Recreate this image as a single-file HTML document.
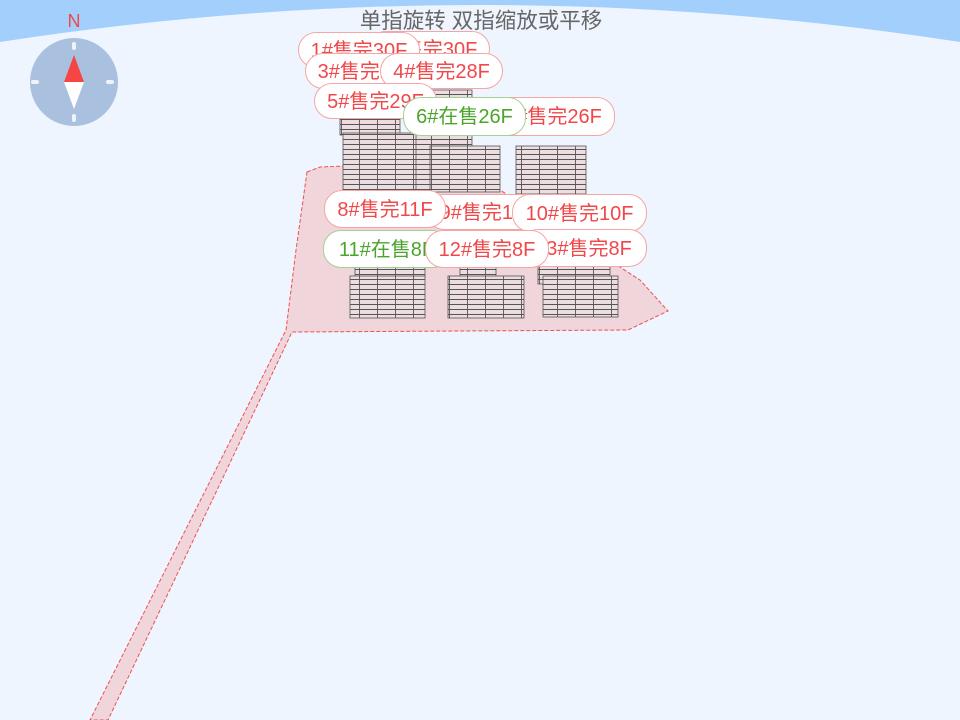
<!DOCTYPE html>
<html><head><meta charset="utf-8"><style>
html,body{margin:0;padding:0;width:960px;height:720px;overflow:hidden;background:#eef5fe;font-family:"Liberation Sans","Noto Sans CJK SC",sans-serif;}
svg{position:absolute;left:0;top:0;display:block}
.p{position:absolute;height:36px;border-radius:18px;background:#fff;border:1px solid #f5a5a5;color:#f0474a;font-size:20px;line-height:36px;text-align:center;box-sizing:border-box;white-space:nowrap;overflow:hidden}
.g{border-color:#a5cf95;color:#4aa52a}
</style></head><body>
<svg width="960" height="720" viewBox="0 0 960 720" overflow="hidden">
<defs>
<pattern id="fl" width="18" height="5" patternUnits="userSpaceOnUse">
<rect width="18" height="5" fill="#ecdde0"/>
<line x1="0" y1="4.5" x2="18" y2="4.5" stroke="#555" stroke-width="0.9"/>
<line x1="17.5" y1="0" x2="17.5" y2="5" stroke="#555" stroke-width="0.9"/>
</pattern>
</defs>
<path d="M0,0 L960,0 L960,42 Q480,-32 0,42 Z" fill="#a3cffd"/>
<text x="481" y="28" text-anchor="middle" font-size="21.5" fill="#666" font-family="Liberation Sans,Noto Sans CJK SC,sans-serif">单指旋转 双指缩放或平移</text>
<text x="74" y="27" text-anchor="middle" font-size="18" fill="#f0474a" font-family="Liberation Sans,sans-serif">N</text>
<circle cx="74" cy="82" r="44" fill="#a9c1de"/>
<rect x="72" y="42" width="4" height="8" rx="2" fill="#eef3fa"/>
<rect x="72" y="114" width="4" height="8" rx="2" fill="#eef3fa"/>
<rect x="31" y="80" width="8" height="4" rx="2" fill="#eef3fa"/>
<rect x="106" y="80" width="8" height="4" rx="2" fill="#eef3fa"/>
<polygon points="74,55 84,82 64,82" fill="#f54545"/>
<polygon points="64,82 84,82 74,109" fill="#fff"/>
<polygon points="307,172 320,167 345,166 500,190 640,280 668,311 628,330 292,332 108,720 90,720 286,330 296,250" fill="#f0d5da" stroke="#f05050" stroke-width="1" stroke-dasharray="4,2"/>
<rect x="340" y="113" width="60" height="22" fill="url(#fl)" stroke="#555" stroke-width="0.8"/>
<rect x="414" y="90" width="58" height="100" fill="url(#fl)" stroke="#555" stroke-width="0.8"/>
<rect x="343" y="133" width="73" height="57" fill="url(#fl)" stroke="#555" stroke-width="0.8"/>
<rect x="430" y="146" width="70" height="46" fill="url(#fl)" stroke="#555" stroke-width="0.8"/>
<rect x="516" y="146" width="70" height="48" fill="url(#fl)" stroke="#555" stroke-width="0.8"/>
<rect x="355" y="262" width="70" height="15" fill="url(#fl)" stroke="#555" stroke-width="0.8"/>
<rect x="460" y="262" width="36" height="15" fill="url(#fl)" stroke="#555" stroke-width="0.8"/>
<rect x="538" y="262" width="72" height="22" fill="url(#fl)" stroke="#555" stroke-width="0.8"/>
<rect x="350" y="276" width="75" height="42" fill="url(#fl)" stroke="#555" stroke-width="0.8"/>
<rect x="448" y="276" width="76" height="42" fill="url(#fl)" stroke="#555" stroke-width="0.8"/>
<rect x="543" y="276" width="75" height="41" fill="url(#fl)" stroke="#555" stroke-width="0.8"/>
</svg>
<div class="p" style="left:368px;top:31px;width:122px">2#售完30F</div>
<div class="p" style="left:298px;top:32px;width:122px">1#售完30F</div>
<div class="p" style="left:305px;top:53px;width:122px">3#售完28F</div>
<div class="p" style="left:380px;top:53px;width:123px">4#售完28F</div>
<div class="p" style="left:314px;top:83px;width:123px">5#售完29F</div>
<div class="p" style="left:492px;top:97px;width:123px;height:39px;line-height:39px">7#售完26F</div>
<div class="p g" style="left:403px;top:97px;width:123px;height:39px;line-height:39px">6#在售26F</div>
<div class="p" style="left:426px;top:194px;width:124px">9#售完10F</div>
<div class="p" style="left:324px;top:190px;width:122px;height:38px;line-height:38px">8#售完11F</div>
<div class="p" style="left:512px;top:194px;width:135px;height:38px;line-height:38px">10#售完10F</div>
<div class="p" style="left:520px;top:229px;width:127px;height:38px;line-height:38px">13#售完8F</div>
<div class="p g" style="left:323px;top:230px;width:127px;height:38px;line-height:38px">11#在售8F</div>
<div class="p" style="left:425px;top:230px;width:124px;height:38px;line-height:38px">12#售完8F</div>
</body></html>
